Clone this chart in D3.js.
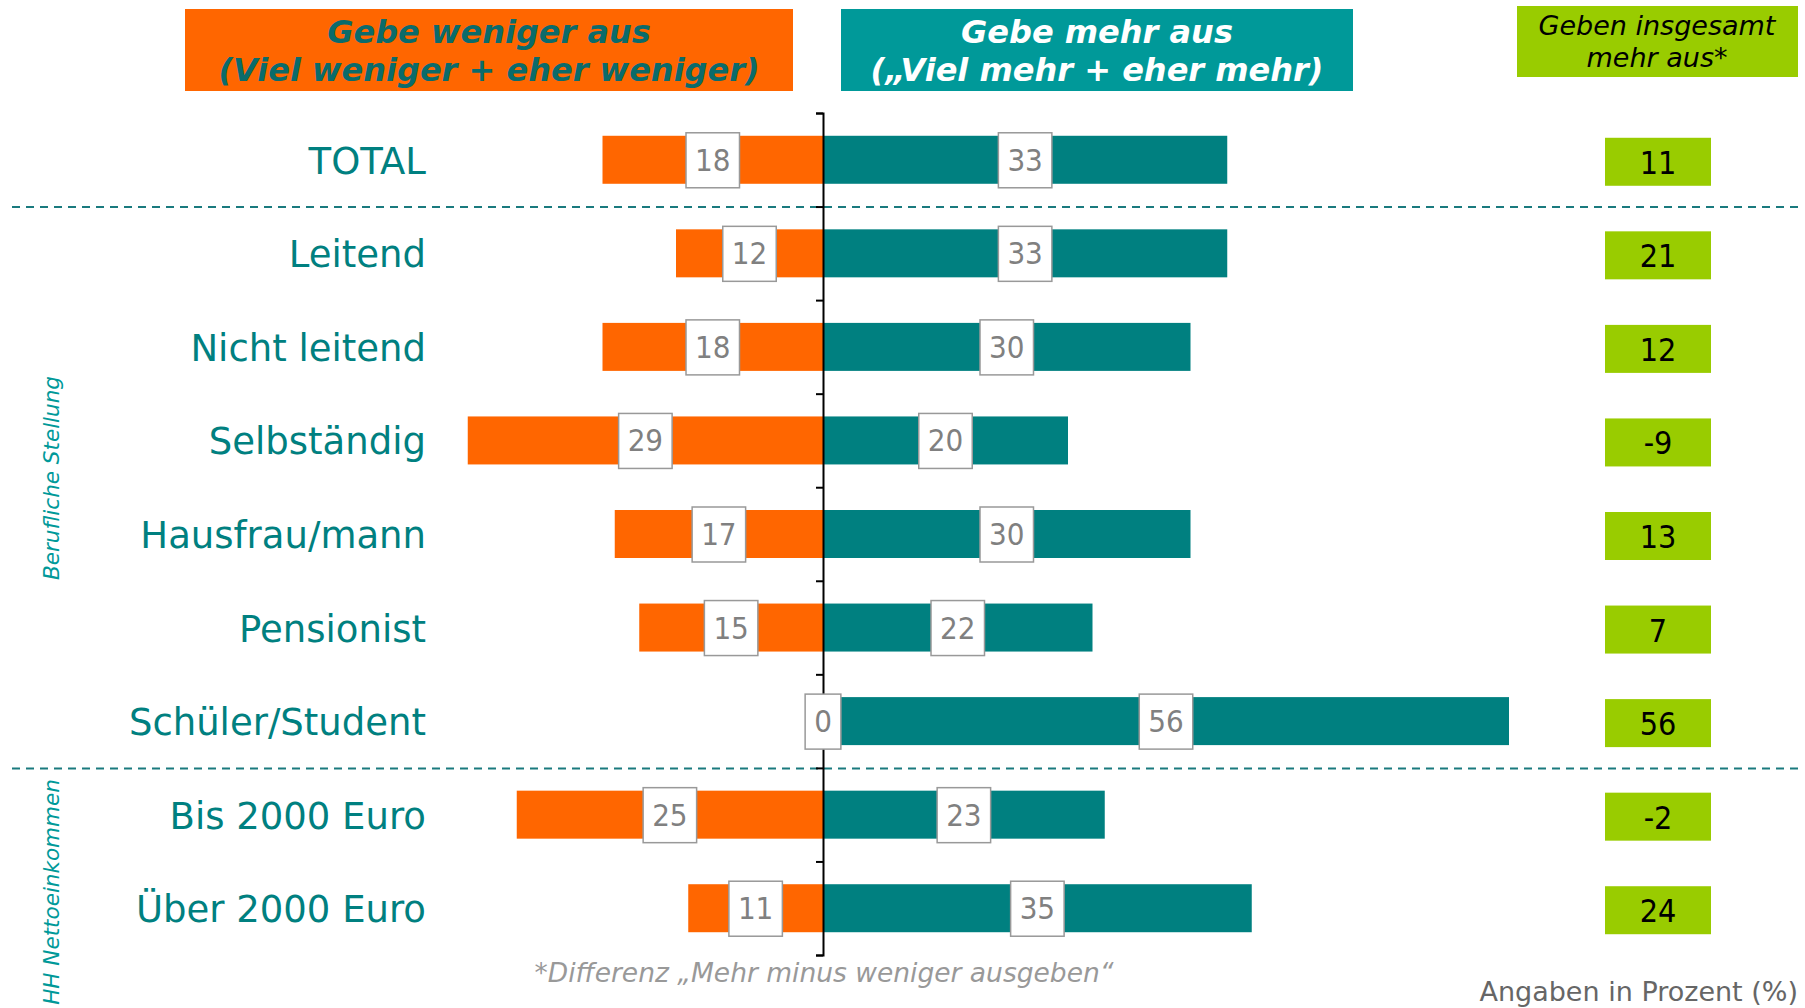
<!DOCTYPE html>
<html>
<head>
<meta charset="utf-8">
<script src="https://cdn.jsdelivr.net/npm/d3@7"></script>
<style>
  body { margin: 0; background: #fff; }
  svg { display: block; }
  .num { font-family: "DejaVu Sans Condensed", "DejaVu Sans", sans-serif; font-stretch: condensed; }
  .cat { font-family: "DejaVu Sans", sans-serif; }
</style>
</head>
<body>
<div id="chart"></div>
<script>
// Daten
const categories = ["TOTAL", "Leitend", "Nicht leitend", "Selbständig", "Hausfrau/mann",
  "Pensionist", "Schüler/Student", "Bis 2000 Euro", "Über 2000 Euro"];
const weniger = [18, 12, 18, 29, 17, 15, 0, 25, 11];
const mehr = [33, 33, 30, 20, 30, 22, 56, 23, 35];
const differenz = [11, 21, 12, -9, 13, 7, 56, -2, 24];
const groups = [
  { label: "Berufliche Stellung", from: 1, to: 7 },
  { label: "HH Nettoeinkommen", from: 7, to: 9 }
];

const W = 1805, H = 1008;
const orange = "#ff6600", teal = "#008080";

const svg = d3.select("#chart").append("svg").attr("width", W).attr("height", H);

const x = d3.scaleLinear().domain([-30, 60]).range([823 - 30 * 12.25, 823 + 60 * 12.25]);
const yIdx = d3.scaleLinear().domain([0, categories.length]).range([113, 955]);
const y = d3.scaleBand().domain(categories).range([113, 955]);
const barH = 48;

// Kopfzeilen
const heads = [
  { x0: 185, x1: 793, y0: 9, y1: 91, fill: orange, color: "#0b6b6b",
    lines: ["Gebe weniger aus", "(Viel weniger + eher weniger)"] },
  { x0: 841, x1: 1353, y0: 9, y1: 91, fill: "#009999", color: "#ffffff",
    lines: ["Gebe mehr aus", "(„Viel mehr + eher mehr)"] }
];
heads.forEach(h => {
  svg.append("rect").attr("x", h.x0).attr("y", h.y0).attr("width", h.x1 - h.x0)
    .attr("height", h.y1 - h.y0).attr("fill", h.fill);
  h.lines.forEach((t, i) => {
    svg.append("text").attr("x", (h.x0 + h.x1) / 2).attr("y", 43 + i * 38)
      .attr("text-anchor", "middle").attr("fill", h.color)
      .style("font-family", "DejaVu Sans").style("font-weight", "bold")
      .style("font-style", "italic").style("font-size", "32px").text(t);
  });
});

svg.append("rect").attr("x", 1517).attr("y", 6).attr("width", 281).attr("height", 71).attr("fill", "#99cc00");
["Geben insgesamt", "mehr aus*"].forEach((t, i) => {
  svg.append("text").attr("x", 1657).attr("y", 35 + i * 32).attr("text-anchor", "middle")
    .style("font-family", "DejaVu Sans").style("font-style", "italic").style("font-size", "27px")
    .attr("fill", "#000").text(t);
});

// Trennlinien
[1, 7].forEach(b => {
  svg.append("line").attr("x1", 12).attr("x2", 1800).attr("y1", yIdx(b) + 0.5).attr("y2", yIdx(b) + 0.5)
    .attr("stroke", "#1a7a7e").attr("stroke-width", 2).attr("stroke-dasharray", "8,6");
});

// Balken
const rows = svg.append("g").selectAll("g").data(categories).join("g");

rows.append("rect").attr("x", (d, i) => x(-weniger[i])).attr("y", d => y(d) + (y.bandwidth() - barH) / 2)
  .attr("width", (d, i) => x(0) - x(-weniger[i])).attr("height", barH).attr("fill", orange);
rows.append("rect").attr("x", x(0)).attr("y", d => y(d) + (y.bandwidth() - barH) / 2)
  .attr("width", (d, i) => x(mehr[i]) - x(0)).attr("height", barH).attr("fill", teal);

// Achse
svg.append("g").attr("transform", `translate(${x(0)},0)`)
  .call(d3.axisLeft(yIdx).tickValues(d3.range(0, categories.length + 1)).tickSize(7).tickFormat(""))
  .call(g => g.selectAll("path, line").attr("stroke", "#000").attr("stroke-width", 2));

// Wertelabels
const labels = svg.append("g");
function valueBox(g, cx, cy, v) {
  const t = g.append("text").attr("x", cx).attr("y", cy + 11).attr("text-anchor", "middle")
    .attr("class", "num").attr("fill", "#808080").style("font-size", "31px").text(v);
  const w = t.node().getComputedTextLength() + 18;
  g.insert("rect", () => t.node()).attr("x", cx - w / 2).attr("y", cy - 27).attr("width", w).attr("height", 55)
    .attr("fill", "#fff").attr("stroke", "#999").attr("stroke-width", 1.5);
}
categories.forEach((d, i) => {
  const cy = y(d) + y.bandwidth() / 2;
  valueBox(labels, (x(-weniger[i]) + x(0)) / 2, cy, weniger[i]);
  valueBox(labels, (x(mehr[i]) + x(0)) / 2, cy, mehr[i]);
});

// Kategorien
rows.append("text").attr("class", "cat").attr("x", 426).attr("y", d => y(d) + y.bandwidth() / 2 + 14)
  .attr("text-anchor", "end").attr("fill", teal).style("font-size", "37px").text(d => d);

// Differenz
rows.append("rect").attr("x", 1605).attr("y", d => y(d) + y.bandwidth() / 2 - 22)
  .attr("width", 106).attr("height", 48).attr("fill", "#99cc00");
rows.append("text").attr("class", "num").attr("x", 1658).attr("y", d => y(d) + y.bandwidth() / 2 + 14)
  .attr("text-anchor", "middle").attr("fill", "#000").style("font-size", "32px").text((d, i) => differenz[i]);

// Gruppenlabels
groups.forEach(gr => {
  const cy = gr.label === "HH Nettoeinkommen" ? 892 : 478;
  svg.append("text").attr("transform", `translate(59,${cy}) rotate(-90)`).attr("text-anchor", "middle")
    .attr("fill", "#009999").style("font-family", "DejaVu Sans").style("font-style", "italic")
    .style("font-size", "21.5px").text(gr.label);
});

// Fußnoten
svg.append("text").attr("x", 824).attr("y", 982).attr("text-anchor", "middle").attr("fill", "#999")
  .style("font-family", "DejaVu Sans").style("font-style", "italic").style("font-size", "26.5px")
  .text("*Differenz „Mehr minus weniger ausgeben“");
svg.append("text").attr("x", 1798).attr("y", 1001).attr("text-anchor", "end").attr("fill", "#666")
  .style("font-family", "DejaVu Sans").style("font-size", "27px").text("Angaben in Prozent (%)");
</script>
</body>
</html>
